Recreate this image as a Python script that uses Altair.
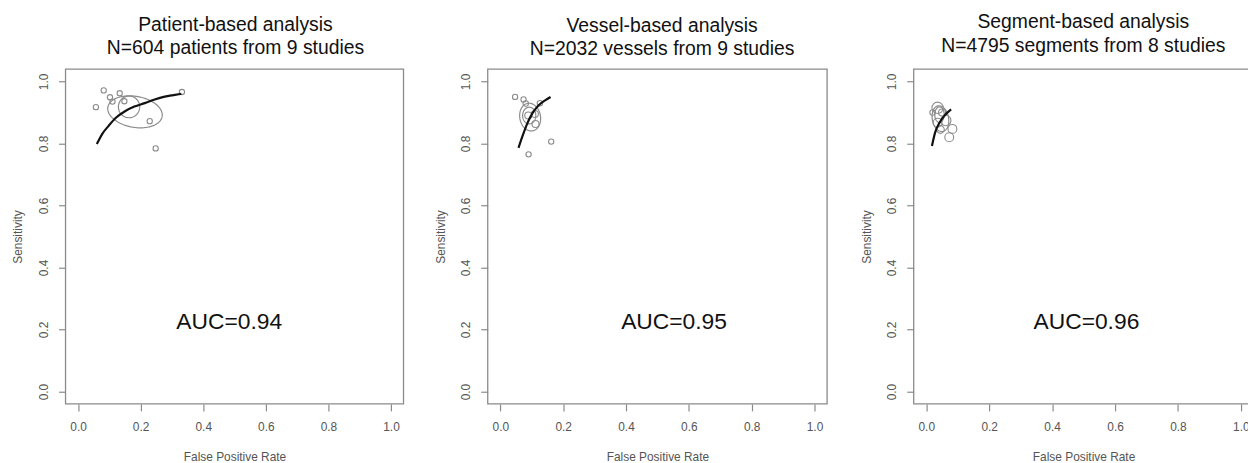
import altair as alt
import pandas as pd
import numpy as np

FONT = "Liberation Sans"

# ---------------- data ----------------
title_line1 = ["Patient-based analysis", "Vessel-based analysis", "Segment-based analysis"]
title_line2 = ["N=604 patients from 9 studies", "N=2032 vessels from 9 studies", "N=4795 segments from 8 studies"]
auc_text = ["AUC=0.94", "AUC=0.95", "AUC=0.96"]

tick_values = [0.0, 0.2, 0.4, 0.6, 0.8, 1.0]

# study estimates (false positive rate, sensitivity, symbol area)
p1_fpr = [0.057, 0.082, 0.102, 0.110, 0.133, 0.148, 0.229, 0.248, 0.332]
p1_sens = [0.917, 0.971, 0.949, 0.935, 0.962, 0.936, 0.872, 0.784, 0.966]
p1_size = [28, 28, 28, 28, 28, 28, 28, 28, 28]

p2_fpr = [0.047, 0.074, 0.090, 0.162, 0.081, 0.126, 0.089, 0.110, 0.112]
p2_sens = [0.950, 0.942, 0.765, 0.806, 0.929, 0.930, 0.890, 0.895, 0.863]
p2_size = [28, 28, 28, 28, 30, 30, 50, 50, 50]

p3_fpr = [0.020, 0.036, 0.036, 0.062, 0.083, 0.073, 0.050, 0.045]
p3_sens = [0.900, 0.915, 0.867, 0.874, 0.847, 0.820, 0.900, 0.845]
p3_size = [30, 130, 80, 110, 80, 80, 50, 60]

# SROC curves
c1_fpr = [0.060, 0.078, 0.097, 0.120, 0.150, 0.180, 0.213, 0.245, 0.277, 0.305, 0.330]
c1_sens = [0.798, 0.832, 0.856, 0.882, 0.904, 0.919, 0.930, 0.942, 0.951, 0.956, 0.960]

c2_fpr = [0.058, 0.070, 0.086, 0.102, 0.123, 0.144, 0.160]
c2_sens = [0.786, 0.822, 0.865, 0.897, 0.924, 0.940, 0.950]

c3_fpr = [0.018, 0.028, 0.042, 0.058, 0.079]
c3_sens = [0.792, 0.835, 0.867, 0.890, 0.910]

# confidence / prediction ellipses: centre x, centre y, semi-axis a, semi-axis b, rotation (deg)
e1 = [(0.163, 0.918, 0.034, 0.035, 0), (0.182, 0.902, 0.088, 0.050, -10)]
e2 = [(0.092, 0.890, 0.021, 0.027, 0), (0.095, 0.885, 0.033, 0.045, 10)]
e3 = [(0.042, 0.893, 0.015, 0.025, 0), (0.045, 0.880, 0.026, 0.042, 10)]

# text anchor positions in data units
auc_x = [0.483, 0.553, 0.509]
auc_y = [0.224, 0.224, 0.224]
title_x = [0.503, 0.515, 0.499]
title_y1 = [1.183, 1.179, 1.192]
title_y2 = [1.107, 1.103, 1.115]

# ---------------- layout (pixels, relative to chart origin) ----------------
W, H = 1250, 455
Y_TOP, Y_BOT = 59.7, 397.3
X_RANGES = [[58.0, 398.7], [483.6, 825.7], [913.0, 1255.5]]

BOX = "#8a8a8a"
PTS = "#8c8c8c"
LAB = "#555555"


def ellipse_frame(ells):
    rows = []
    t = np.linspace(0, 2 * np.pi, 90)
    for ei, (cx, cy, a, b, ang) in enumerate(ells):
        phi = np.deg2rad(ang)
        xs = cx + a * np.cos(t) * np.cos(phi) - b * np.sin(t) * np.sin(phi)
        ys = cy + a * np.cos(t) * np.sin(phi) + b * np.sin(t) * np.cos(phi)
        for k in range(len(t)):
            rows.append({"x": xs[k], "y": ys[k], "id": ei, "k": k})
    return pd.DataFrame(rows)


def panel(i, pts, curve, ells):
    xs = alt.Scale(domain=[-0.04, 1.04], range=X_RANGES[i], nice=False, zero=False)
    ys = alt.Scale(domain=[-0.04, 1.04], range=[Y_BOT, Y_TOP], nice=False, zero=False)
    xaxis = alt.Axis(
        orient="bottom", offset=Y_BOT - H, values=tick_values, format=".1f",
        domain=False, grid=False, tickSize=7, tickColor=BOX, tickWidth=1.2,
        labelFont=FONT, labelFontSize=12, labelColor=LAB, labelPadding=11,
        labelBaseline="top", labelFlush=False,
        title="False Positive Rate", titleFont=FONT, titleFontSize=12,
        titleFontWeight="normal", titleColor=LAB, titlePadding=19,
    )
    yaxis = alt.Axis(
        orient="left", offset=-X_RANGES[i][0], values=tick_values, format=".1f",
        domain=False, grid=False, tickSize=7, tickColor=BOX, tickWidth=1.2,
        labelFont=FONT, labelFontSize=12, labelColor=LAB, labelPadding=8,
        labelAngle=270, labelAlign="center", labelBaseline="bottom", labelFlush=False,
        title="Sensitivity", titleFont=FONT, titleFontSize=12,
        titleFontWeight="normal", titleColor=LAB, titlePadding=13,
    )
    X = alt.X("x:Q", scale=xs, axis=xaxis)
    Y = alt.Y("y:Q", scale=ys, axis=yaxis)

    box_df = pd.DataFrame({"x": [-0.04], "x2": [1.04], "y": [-0.04], "y2": [1.04]})
    box = alt.Chart(box_df).mark_rect(
        fill="white", fillOpacity=0, stroke=BOX, strokeWidth=1.3
    ).encode(x=X, x2="x2:Q", y=Y, y2="y2:Q")

    ell = alt.Chart(ellipse_frame(ells)).mark_line(
        color=PTS, strokeWidth=1.2
    ).encode(x=X, y=Y, detail="id:N", order="k:Q")

    cdf = pd.DataFrame({"x": curve[0], "y": curve[1]})
    crv = alt.Chart(cdf).mark_line(
        color="#111111", strokeWidth=2.2, interpolate="monotone"
    ).encode(x=X, y=Y, order="x:Q")

    pdf = pd.DataFrame({"x": pts[0], "y": pts[1], "s": pts[2]})
    points = alt.Chart(pdf).mark_point(
        shape="circle", filled=False, color=PTS, strokeWidth=1.1, opacity=1
    ).encode(x=X, y=Y, size=alt.Size("s:Q", scale=None, legend=None))

    tdf = pd.DataFrame({
        "x": [title_x[i], title_x[i]],
        "y": [title_y1[i], title_y2[i]],
        "t": [title_line1[i], title_line2[i]],
    })
    ttl = alt.Chart(tdf).mark_text(
        font=FONT, fontSize=19.5, color="#111111", align="center", baseline="middle"
    ).encode(x=X, y=Y, text="t:N")

    adf = pd.DataFrame({"x": [auc_x[i]], "y": [auc_y[i]], "t": [auc_text[i]]})
    auc = alt.Chart(adf).mark_text(
        font=FONT, fontSize=23, color="#111111", align="center", baseline="middle"
    ).encode(x=X, y=Y, text="t:N")

    return alt.layer(box, ell, points, crv, ttl, auc)


p1 = panel(0, (p1_fpr, p1_sens, p1_size), (c1_fpr, c1_sens), e1)
p2 = panel(1, (p2_fpr, p2_sens, p2_size), (c2_fpr, c2_sens), e2)
p3 = panel(2, (p3_fpr, p3_sens, p3_size), (c3_fpr, c3_sens), e3)

chart = alt.layer(p1, p2, p3).resolve_scale(
    x="independent", y="independent", size="independent"
).properties(
    width=W, height=H, padding=0,
    autosize=alt.AutoSizeParams(type="none"),
    background="white",
).configure_view(strokeWidth=0)

chart.save("out.html", embed_options={"renderer": "svg", "actions": False})
